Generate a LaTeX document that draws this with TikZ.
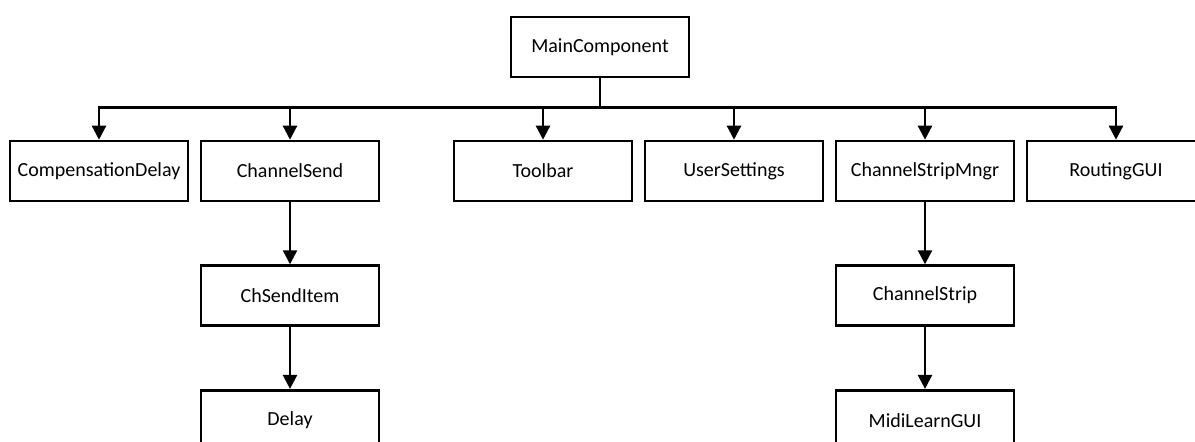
\documentclass[tikz,border=0pt]{standalone}
\usepackage{fontspec}
\setmainfont{Carlito}
\usetikzlibrary{positioning,arrows.meta}
\tikzset{
  comp/.style={rectangle, draw, line width=1.3pt, fill=white,
    minimum width=89pt, minimum height=30pt, inner sep=0pt},
%  compHi/.style={rectangle, draw, fill=gray!20},
  link/.style={line width=1.2pt, -{Triangle[width=7pt,length=7pt]}}
}
\begin{document}
\begin{tikzpicture}[x=0.5pt, y=-0.5pt, font=\fontsize{10pt}{12pt}\selectfont,
        node distance=31pt]
      \useasboundingbox (0,0) rectangle (1195,441);
      \node [comp] (main) at (600,47) {MainComponent};
      % first level
      \node [comp] (compdelay) at (99,171) {CompensationDelay};
      \node [comp] (chsend) at (290,171) {ChannelSend};
      \node [comp] (toolbar) at (543,171) {Toolbar};
      \node [comp] (settings) at (734,171) {UserSettings};
      \node [comp] (stripmngr) at (925,171) {ChannelStripMngr};
      \node [comp] (routing) at (1116,171) {RoutingGUI};
      % second and third level
      \node [comp, below=of chsend] (senditem) {ChSendItem};
      \node [comp, below=of senditem] (delay) {Delay};
      \node [comp, below=of stripmngr] (strip) {ChannelStrip};
      \node [comp, below=of strip] (midilearn) {MidiLearnGUI};

      \foreach \n in {compdelay,chsend,toolbar,settings,stripmngr,routing}
        \draw [link] (main.south) -- ++(0,29) -| (\n);
      \draw [link] (chsend) -- (senditem);
      \draw [link] (senditem) -- (delay);
      \draw [link] (stripmngr) -- (strip);
      \draw [link] (strip) -- (midilearn);
    \end{tikzpicture}
\end{document}
